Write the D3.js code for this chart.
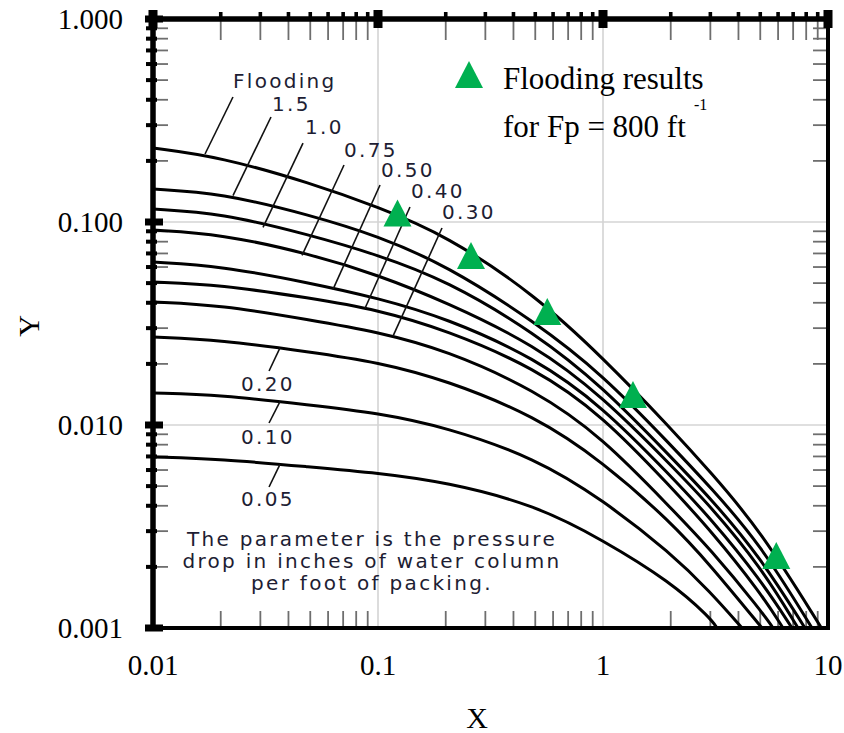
<!DOCTYPE html>
<html>
<head>
<meta charset="utf-8">
<script src="https://cdn.jsdelivr.net/npm/d3@7"></script>
<style>
  body { margin: 0; background: #fff; }
  svg { display: block; }
</style>
</head>
<body>
<svg id="chart" width="844" height="733"></svg>
<script>
// -- values -- //
const xGrid = [0.01, 0.02, 0.05, 0.1, 0.2, 0.5, 1, 2, 3, 5];
const curveNames = ["Flooding", "1.5", "1.0", "0.75", "0.50", "0.40", "0.30", "0.20", "0.10", "0.05"];
const curveValues = [
    [0.2314, 0.2090, 0.1556, 0.1186, 0.0863, 0.04369, 0.0214, 0.00966, 0.005868, 0.00304],
    [0.1454, 0.1390, 0.1082, 0.0853, 0.0614, 0.03217, 0.01763, 0.00797, 0.00495, 0.002594],
    [0.1159, 0.1107, 0.0863, 0.0688, 0.0518, 0.02839, 0.01539, 0.00696, 0.00437, 0.002238],
    [0.0913, 0.0873, 0.06959, 0.05482, 0.0404, 0.02477, 0.01373, 0.006353, 0.00399, 0.00202],
    [0.0635, 0.0607, 0.05006, 0.0422, 0.0337, 0.0214, 0.01227, 0.00561, 0.00348, 0.00174],
    [0.0506, 0.0490, 0.0422, 0.0369, 0.0294, 0.0191, 0.01107, 0.00495, 0.00304, 0.00150],
    [0.0404, 0.0390, 0.0329, 0.0287, 0.0234, 0.01488, 0.00863, 0.00390, 0.002449, 0.00123],
    [0.0271, 0.0262, 0.0229, 0.0204, 0.01666, 0.01107, 0.00657, 0.00333, 0.00204, null],
    [0.01437, 0.01405, 0.01254, 0.01146, 0.009775, 0.00688, 0.00427, 0.00234, 0.001504, null],
    [0.00696, 0.00680, 0.00621, 0.00580, 0.005237, 0.00404, 0.00271, 0.001684, 0.00112, null]
];
// x where each curve runs into the bottom of the chart (y = 0.001)
const curveEndX = [9.35, 8.49, 7.90, 7.36, 6.92, 6.31, 5.70, 5.09, 4.15, 3.21];

const floodX = [0.1221, 0.259, 0.5655, 1.359, 5.891];
const floodY = [0.1101, 0.0680, 0.0360, 0.01405, 0.002262];

const xTickValues = [0.01, 0.1, 1, 10];
const xTickLabels = ["0.01", "0.1", "1", "10"];
const yTickValues = [0.001, 0.01, 0.1, 1];
const yTickLabels = ["0.001", "0.010", "0.100", "1.000"];

// curve labels (text start, baseline) and leader lines, in data units
const labelAt = [[0.02267, 0.4571], [0.0338, 0.3522], [0.0474, 0.2714], [0.0706, 0.2090], [0.1031, 0.1666],
    [0.1402, 0.1313], [0.1925, 0.1035], [0.0246, 0.0147], [0.0246, 0.00806], [0.0246, 0.00399]];
const leaderFrom = [[0.02267, 0.4128], [0.03345, 0.3291], [0.04642, 0.2449], [0.07063, 0.1909], [0.1021, 0.1521],
    [0.1387, 0.1186], [0.1925, 0.0934], [0.03279, 0.01845], [0.03279, 0.01023], [0.03279, 0.00495]];
const leaderTo = [[0.01703, 0.2163], [0.02267, 0.135], [0.03083, 0.094], [0.04596, 0.0685], [0.0631, 0.0466],
    [0.0875, 0.0375], [0.1166, 0.0274], [0.03667, 0.02397], [0.03667, 0.01303], [0.03667, 0.0064]];

const noteAt = [0.094, 0.00254];
const noteLines = ["The parameter is the pressure", "drop in inches of water column", "per foot of packing."];
const legendLines = ["Flooding results", "for Fp = 800 ft"];

// -- layout -- //
const plotLeft = 153, plotRight = 828, plotTop = 19, plotBottom = 628;
const svg = d3.select("#chart");

let x = d3.scaleLog().domain([0.01, 10]).range([plotLeft, plotRight]);
let y = d3.scaleLog().domain([0.001, 1]).range([plotBottom, plotTop]);

let isDecade = v => Math.abs(Math.log10(v) - Math.round(Math.log10(v))) < 1e-6;
let xMinor = x.ticks().filter(v => !isDecade(v));
let yMinor = y.ticks().filter(v => !isDecade(v));

svg.append("defs").append("clipPath").attr("id", "plotClip")
    .append("rect")
    .attr("x", plotLeft).attr("y", plotTop)
    .attr("width", plotRight - plotLeft).attr("height", plotBottom - plotTop);

// -- grid lines -- //
let grid = svg.append("g").attr("stroke", "#d4d4d4").attr("stroke-width", 1.6);
grid.selectAll(".gx").data([0.1, 1]).enter().append("line")
    .attr("x1", d => x(d)).attr("x2", d => x(d))
    .attr("y1", plotTop).attr("y2", plotBottom);
grid.selectAll(".gy").data([0.1, 0.01]).enter().append("line")
    .attr("y1", d => y(d)).attr("y2", d => y(d))
    .attr("x1", plotLeft).attr("x2", plotRight);

// -- grey inner ticks of the old chart -- //
let inner = svg.append("g").attr("stroke", "#6e6e6e").attr("stroke-width", 1.8);
inner.selectAll(".tt").data(xMinor).enter().append("line")
    .attr("x1", d => x(d)).attr("x2", d => x(d)).attr("y1", plotTop).attr("y2", plotTop + 21);
inner.selectAll(".tb").data(xMinor).enter().append("line")
    .attr("x1", d => x(d)).attr("x2", d => x(d)).attr("y1", plotBottom).attr("y2", plotBottom - 17);
inner.selectAll(".tl").data(yMinor).enter().append("line")
    .attr("y1", d => y(d)).attr("y2", d => y(d)).attr("x1", plotLeft).attr("x2", plotLeft + 15);
inner.selectAll(".tr").data(yMinor).enter().append("line")
    .attr("y1", d => y(d)).attr("y2", d => y(d)).attr("x1", plotRight).attr("x2", plotRight - 15);

// -- the curves -- //
let curves = curveNames.map((name, i) => {
    let pts = xGrid.map((xv, j) => [xv, curveValues[i][j]]).filter(p => p[1] != null);
    pts.push([curveEndX[i], 0.001]);
    return pts;
});
let line = d3.line().x(d => x(d[0])).y(d => y(d[1])).curve(d3.curveBasis);

svg.append("g").attr("clip-path", "url(#plotClip)")
    .selectAll("path").data(curves).enter().append("path")
    .attr("d", line)
    .attr("fill", "none")
    .attr("stroke", "#000")
    .attr("stroke-width", 3);

// -- leader lines and curve labels -- //
svg.append("g").selectAll("line").data(curveNames).enter().append("line")
    .attr("x1", (d, i) => x(leaderFrom[i][0])).attr("y1", (d, i) => y(leaderFrom[i][1]))
    .attr("x2", (d, i) => x(leaderTo[i][0])).attr("y2", (d, i) => y(leaderTo[i][1]))
    .attr("stroke", "#111").attr("stroke-width", 1.6);

svg.append("g").selectAll("text").data(curveNames).enter().append("text")
    .attr("x", (d, i) => x(labelAt[i][0]))
    .attr("y", (d, i) => y(labelAt[i][1]))
    .text(d => d)
    .style("font-family", "'DejaVu Sans', sans-serif")
    .style("font-size", "20px")
    .style("letter-spacing", "2.3px")
    .style("fill", "#1d1d33");

svg.append("text")
    .attr("x", x(noteAt[0])).attr("y", y(noteAt[1]))
    .attr("text-anchor", "middle")
    .style("font-family", "'DejaVu Sans', sans-serif")
    .style("font-size", "20px")
    .style("letter-spacing", "2.3px")
    .style("fill", "#1d1d33")
    .selectAll("tspan").data(noteLines).enter().append("tspan")
    .attr("x", x(noteAt[0]))
    .attr("dy", (d, i) => i === 0 ? 0 : 22)
    .text(d => d);

// -- flooding results -- //
let tri = "M0,-14L14,13L-14,13Z";
svg.append("g").selectAll("path").data(floodX).enter().append("path")
    .attr("d", tri)
    .attr("transform", (d, i) => `translate(${x(d)},${y(floodY[i])})`)
    .attr("fill", "#00b050");

// -- legend -- //
svg.append("path").attr("d", tri).attr("transform", "translate(469,75)").attr("fill", "#00b050");
let legend = svg.append("g")
    .style("font-family", "'Liberation Serif', 'Times New Roman', serif")
    .style("font-size", "31px")
    .style("fill", "#000");
legend.append("text").attr("x", 503).attr("y", 89).text(legendLines[0]);
legend.append("text").attr("x", 503).attr("y", 137).text(legendLines[1]);
legend.append("text").attr("x", 694).attr("y", 110).style("font-size", "16px").text("-1");

// -- frame -- //
let frame = svg.append("g").attr("stroke", "#000");
frame.append("line").attr("x1", plotLeft).attr("x2", plotLeft).attr("y1", plotTop - 2).attr("y2", plotBottom + 2).attr("stroke-width", 5.5);
frame.append("line").attr("x1", plotLeft - 2).attr("x2", plotRight + 2).attr("y1", plotTop).attr("y2", plotTop).attr("stroke-width", 5.5);
frame.append("line").attr("x1", plotRight).attr("x2", plotRight).attr("y1", plotTop).attr("y2", plotBottom).attr("stroke-width", 4);
frame.append("line").attr("x1", plotLeft).attr("x2", plotRight + 2).attr("y1", plotBottom).attr("y2", plotBottom).attr("stroke-width", 4);

// -- black ticks of the new axes -- //
let blk = svg.append("g").attr("fill", "#000");
blk.selectAll(".bt").data(xMinor).enter().append("rect")
    .attr("x", d => x(d) - 1.8).attr("y", plotTop - 7).attr("width", 3.6).attr("height", 9);
blk.selectAll(".btm").data(xTickValues).enter().append("rect")
    .attr("x", d => x(d) - 4.5).attr("y", plotTop - 9).attr("width", 9).attr("height", 18);
blk.selectAll(".bl").data(yMinor).enter().append("rect")
    .attr("x", plotLeft - 7).attr("y", d => y(d) - 2).attr("width", 11).attr("height", 4);
blk.selectAll(".blm").data(yTickValues).enter().append("rect")
    .attr("x", plotLeft - 8).attr("y", d => y(d) - 3.5).attr("width", 18).attr("height", 7);

// -- tick labels -- //
let tickFont = "'Liberation Serif', 'Times New Roman', serif";
svg.append("g").selectAll("text").data(xTickValues).enter().append("text")
    .attr("x", d => x(d)).attr("y", 675)
    .attr("text-anchor", "middle")
    .style("font-family", tickFont).style("font-size", "29px")
    .text((d, i) => xTickLabels[i]);
svg.append("g").selectAll("text").data(yTickValues).enter().append("text")
    .attr("x", 123).attr("y", d => y(d)).attr("dy", "0.34em")
    .attr("text-anchor", "end")
    .style("font-family", tickFont).style("font-size", "29px")
    .text((d, i) => yTickLabels[i]);

// -- axis titles -- //
svg.append("text").attr("x", 477).attr("y", 728).attr("text-anchor", "middle")
    .style("font-family", tickFont).style("font-size", "30px").text("X");
svg.append("text").attr("transform", "translate(39,326) rotate(-90)").attr("text-anchor", "middle")
    .style("font-family", tickFont).style("font-size", "30px").text("Y");
</script>
</body>
</html>
